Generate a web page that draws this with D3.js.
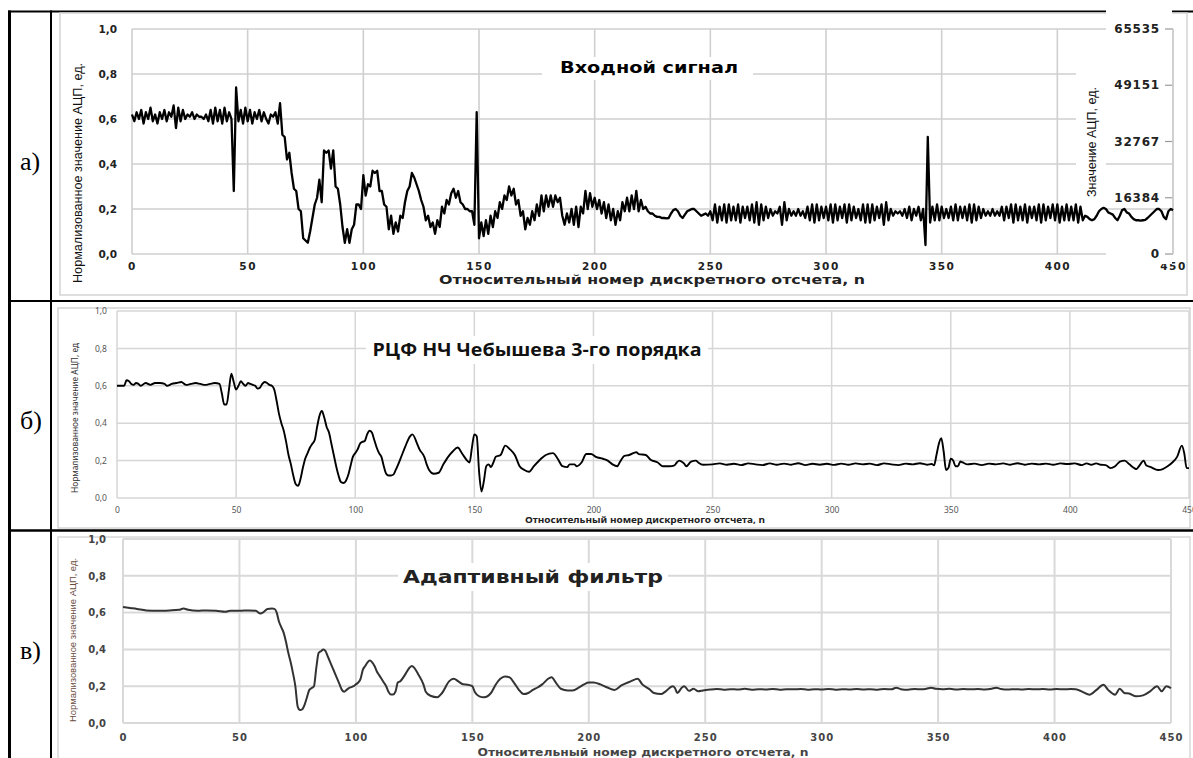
<!DOCTYPE html>
<html><head><meta charset="utf-8">
<script src="https://cdn.jsdelivr.net/npm/d3@7"></script>
<style>
html,body{margin:0;padding:0;background:#fff;}
svg{display:block;}
</style></head>
<body>
<svg id="chart" width="1193" height="758"></svg>
<script>
// ---------- DATA ----------
const xTicks = [0,50,100,150,200,250,300,350,400,450];
const yTicks = [0,0.2,0.4,0.6,0.8,1.0];
const adcTicks = [0,16384,32767,49151,65535];

// а) input signal, one value per sample n = 0..450
const inputSignal = [
0.62,0.59,0.63,0.60,0.64,0.58,0.63,0.60,0.65,0.59,
0.62,0.58,0.63,0.60,0.64,0.59,0.63,0.61,0.66,0.56,
0.65,0.59,0.64,0.60,0.62,0.61,0.63,0.60,0.62,0.61,
0.61,0.60,0.62,0.59,0.64,0.58,0.65,0.59,0.64,0.58,
0.65,0.59,0.63,0.60,0.28,0.74,0.59,0.64,0.58,0.65,
0.59,0.64,0.58,0.63,0.60,0.64,0.59,0.63,0.60,0.58,
0.62,0.61,0.63,0.58,0.67,0.53,0.52,0.42,0.45,0.36,
0.29,0.28,0.20,0.19,0.07,0.06,0.05,0.10,0.16,0.22,
0.25,0.33,0.23,0.46,0.45,0.46,0.38,0.46,0.30,0.29,
0.22,0.12,0.05,0.11,0.05,0.11,0.13,0.22,0.22,0.20,
0.35,0.26,0.31,0.30,0.37,0.36,0.37,0.28,0.28,0.22,
0.21,0.11,0.17,0.09,0.14,0.10,0.17,0.16,0.23,0.28,
0.30,0.36,0.34,0.31,0.28,0.24,0.21,0.15,0.17,0.12,
0.14,0.09,0.15,0.12,0.21,0.18,0.24,0.22,0.27,0.29,
0.25,0.28,0.23,0.22,0.20,0.20,0.19,0.19,0.13,0.63,
0.07,0.14,0.08,0.15,0.09,0.17,0.12,0.19,0.16,0.23,
0.20,0.26,0.24,0.30,0.26,0.29,0.22,0.24,0.17,0.19,
0.11,0.16,0.13,0.19,0.15,0.22,0.17,0.26,0.19,0.26,
0.21,0.26,0.21,0.26,0.23,0.25,0.17,0.13,0.18,0.14,
0.20,0.13,0.21,0.12,0.21,0.18,0.28,0.20,0.27,0.21,
0.25,0.20,0.24,0.18,0.23,0.16,0.22,0.15,0.20,0.13,
0.19,0.15,0.23,0.19,0.25,0.19,0.26,0.20,0.28,0.19,
0.24,0.20,0.21,0.19,0.18,0.18,0.17,0.165,0.165,0.16,
0.16,0.158,0.16,0.18,0.195,0.20,0.19,0.17,0.16,0.175,
0.19,0.195,0.20,0.20,0.19,0.18,0.17,0.175,0.18,0.17,
0.19,0.15,0.22,0.14,0.21,0.15,0.22,0.14,0.22,0.15,
0.21,0.15,0.22,0.14,0.21,0.16,0.21,0.15,0.22,0.14,
0.23,0.13,0.22,0.15,0.21,0.16,0.20,0.17,0.19,0.18,
0.21,0.13,0.23,0.15,0.20,0.17,0.19,0.17,0.20,0.17,
0.19,0.16,0.21,0.15,0.22,0.14,0.22,0.15,0.21,0.16,
0.21,0.15,0.22,0.14,0.22,0.15,0.21,0.16,0.22,0.14,
0.22,0.15,0.21,0.16,0.20,0.15,0.22,0.14,0.22,0.14,
0.22,0.15,0.21,0.16,0.22,0.13,0.23,0.15,0.20,0.17,
0.19,0.18,0.19,0.17,0.20,0.16,0.21,0.15,0.20,0.17,
0.21,0.15,0.20,0.04,0.52,0.14,0.21,0.15,0.22,0.15,
0.21,0.16,0.20,0.16,0.21,0.15,0.22,0.15,0.21,0.16,
0.21,0.15,0.22,0.14,0.22,0.15,0.21,0.16,0.20,0.17,
0.19,0.17,0.20,0.17,0.19,0.17,0.21,0.15,0.21,0.16,
0.22,0.14,0.22,0.15,0.21,0.15,0.22,0.14,0.21,0.16,
0.21,0.15,0.22,0.14,0.22,0.15,0.21,0.16,0.22,0.15,
0.22,0.14,0.21,0.15,0.22,0.15,0.21,0.15,0.22,0.14,
0.21,0.15,0.17,0.165,0.155,0.15,0.155,0.17,0.19,0.20,
0.205,0.20,0.185,0.18,0.175,0.16,0.15,0.17,0.195,0.20,
0.185,0.18,0.165,0.155,0.15,0.15,0.148,0.15,0.152,0.16,
0.17,0.18,0.19,0.20,0.20,0.19,0.165,0.155,0.19,0.20,
0.195
];

// б) Chebyshev low-pass output (sample number / value)
const chebN = [0,3,4,5,6,7,8,9,10,12,14,16,18,20,21,23,25,27,29,31,33,35,37,39,41,43,44,45,46,47,48,49,
50,51,52,53,54,55,56,57,58,59,60,61,62,63,64,65,66,67,68,69,70,71,72,73,74,75,76,77,78,79,
80,81,82,83,84,85,86,87,88,89,90,91,92,93,94,95,96,97,98,99,100,101,102,103,104,105,106,107,108,109,
110,111,112,113,114,115,116,117,119,121,123,124,126,127,129,130,131,133,135,137,139,141,143,145,147,148,149,
150,151,152,153,154,155,156,157,158,159,161,163,165,167,169,171,173,175,178,180,183,185,187,189,190,192,193,195,197,199,
201,204,206,208,210,211,213,215,218,219,222,224,227,229,232,234,235,236,238,239,241,243,244,246,
250,253,256,259,262,265,268,271,274,277,280,283,286,289,292,295,298,301,304,307,310,313,316,319,322,325,328,331,334,337,340,342,
343,344,345,346,347,348,349,350,351,352,353,354,355,357,360,363,366,369,372,375,378,381,384,387,390,393,396,399,402,405,407,409,411,413,415,
417,419,421,423,425,427,428,429,431,432,434,437,439,441,443,445,447,448,449,450];
const chebV = [0.60,0.60,0.63,0.625,0.61,0.605,0.615,0.61,0.60,0.615,0.605,0.615,0.615,0.61,0.60,0.61,0.615,0.62,0.605,0.61,0.615,0.61,0.605,0.61,0.615,0.61,0.56,0.50,0.50,0.58,0.665,0.62,
0.58,0.60,0.625,0.61,0.60,0.615,0.61,0.605,0.60,0.585,0.59,0.61,0.62,0.615,0.605,0.60,0.58,0.52,0.45,0.40,0.36,0.30,0.23,0.18,0.12,0.075,0.065,0.10,0.16,0.21,
0.24,0.27,0.29,0.31,0.38,0.44,0.465,0.43,0.38,0.35,0.29,0.23,0.17,0.12,0.085,0.08,0.09,0.12,0.17,0.22,0.24,0.26,0.29,0.30,0.305,0.34,0.36,0.35,0.31,0.27,
0.24,0.22,0.17,0.13,0.12,0.12,0.125,0.15,0.21,0.275,0.33,0.34,0.29,0.26,0.22,0.18,0.15,0.13,0.135,0.18,0.22,0.25,0.27,0.235,0.20,0.19,0.27,
0.34,0.33,0.14,0.035,0.09,0.17,0.18,0.165,0.19,0.22,0.23,0.28,0.26,0.23,0.17,0.15,0.14,0.17,0.21,0.23,0.24,0.21,0.17,0.165,0.18,0.18,0.17,0.19,0.235,0.235,
0.22,0.21,0.20,0.18,0.17,0.19,0.225,0.23,0.245,0.235,0.23,0.205,0.19,0.17,0.17,0.175,0.19,0.20,0.185,0.17,0.195,0.20,0.19,0.178,
0.18,0.185,0.178,0.183,0.176,0.185,0.18,0.176,0.185,0.178,0.184,0.178,0.186,0.176,0.183,0.178,0.183,0.177,0.184,0.178,0.185,0.18,0.184,0.176,0.185,0.18,0.176,0.184,0.18,0.186,0.178,0.182,
0.175,0.23,0.29,0.32,0.25,0.15,0.16,0.21,0.20,0.17,0.17,0.195,0.19,0.18,0.184,0.176,0.184,0.18,0.185,0.178,0.186,0.178,0.184,0.18,0.184,0.178,0.185,0.182,0.185,0.176,0.185,0.178,0.185,0.178,0.176,
0.16,0.17,0.195,0.20,0.18,0.16,0.155,0.17,0.20,0.175,0.165,0.15,0.155,0.17,0.19,0.22,0.28,0.24,0.16,0.16];

// в) adaptive filter output (sample number / value)
const adaptN = [0,3,6,10,15,20,24,26,28,32,36,40,44,46,50,54,57,59,60,61,62,64,65,66,67,68,69,70,71,72,73,74,75,76,77,78,79,
80,81,82,83,84,85,86,87,88,89,90,91,92,93,94,95,96,97,98,99,100,101,102,103,104,105,106,107,108,109,110,111,112,113,114,115,116,117,118,
119,121,123,124,127,129,130,132,135,137,140,142,144,146,148,150,151,153,155,158,160,162,164,166,168,170,172,174,176,178,180,183,184,186,188,191,193,196,198,
200,202,205,208,211,214,218,221,223,226,228,231,233,236,237,238,240,241,243,245,247,249,
252,255,258,261,264,267,270,273,276,279,282,285,288,291,294,297,300,303,306,309,312,315,318,321,324,327,330,332,334,337,340,343,345,347,349,
352,355,358,361,364,367,370,373,375,377,380,383,386,389,392,395,398,401,404,407,409,
411,415,418,421,423,426,428,430,432,435,438,441,444,446,448,450];
const adaptV = [0.63,0.625,0.62,0.612,0.61,0.612,0.615,0.622,0.615,0.61,0.612,0.61,0.605,0.61,0.61,0.612,0.61,0.595,0.60,0.61,0.62,0.622,0.62,0.60,0.55,0.52,0.49,0.44,0.38,0.33,0.27,0.20,0.09,0.07,0.075,0.10,0.14,
0.18,0.19,0.20,0.30,0.38,0.39,0.40,0.39,0.36,0.33,0.30,0.27,0.24,0.21,0.18,0.17,0.18,0.19,0.195,0.20,0.21,0.22,0.24,0.29,0.31,0.33,0.34,0.33,0.31,0.28,0.26,0.24,0.22,0.20,0.17,0.155,0.155,0.17,0.22,
0.226,0.26,0.30,0.31,0.26,0.21,0.17,0.148,0.14,0.163,0.226,0.24,0.226,0.21,0.208,0.20,0.17,0.145,0.14,0.163,0.208,0.24,0.253,0.248,0.217,0.18,0.157,0.163,0.18,0.193,0.21,0.244,0.248,0.217,0.186,0.177,0.177,0.195,0.21,
0.22,0.22,0.21,0.193,0.18,0.204,0.226,0.24,0.21,0.184,0.163,0.157,0.172,0.20,0.19,0.163,0.193,0.20,0.175,0.186,0.172,0.177,
0.182,0.185,0.181,0.184,0.182,0.186,0.181,0.184,0.182,0.185,0.181,0.184,0.183,0.185,0.181,0.184,0.182,0.185,0.181,0.184,0.182,0.185,0.182,0.184,0.181,0.185,0.183,0.192,0.184,0.181,0.185,0.183,0.186,0.192,0.186,
0.184,0.186,0.182,0.185,0.183,0.185,0.182,0.186,0.192,0.185,0.182,0.184,0.182,0.185,0.183,0.185,0.182,0.185,0.183,0.185,0.184,
0.175,0.154,0.18,0.208,0.18,0.154,0.186,0.163,0.16,0.145,0.15,0.172,0.20,0.172,0.20,0.19];

// ---------- DRAW ----------
const svg = d3.select('#chart');
const fmt = d => d3.format('.1f')(d).replace('.', ',');

// table frame
const tbl = svg.append('g').attr('stroke','#000').attr('fill','none');
tbl.append('line').attr('x1',8).attr('x2',1193).attr('y1',11.5).attr('y2',11.5).attr('stroke-width',2);
tbl.append('line').attr('x1',8).attr('x2',1193).attr('y1',301).attr('y2',301).attr('stroke-width',2);
tbl.append('line').attr('x1',8).attr('x2',1193).attr('y1',530.5).attr('y2',530.5).attr('stroke-width',2.5);
tbl.append('line').attr('x1',9.5).attr('x2',9.5).attr('y1',10.5).attr('y2',758).attr('stroke-width',3);
tbl.append('line').attr('x1',51).attr('x2',51).attr('y1',10.5).attr('y2',758).attr('stroke-width',2);

// panel labels
[['а)',161],['б)',420],['в)',650]].forEach(([t,y])=>{
  svg.append('text').attr('x',20).attr('y',y).attr('dy','0.35em')
    .attr('font-family','"Liberation Serif","Times New Roman",serif').attr('font-size',26).text(t);
});

function panel(cfg){
  const g = svg.append('g');
  // chart box
  g.append('rect').attr('x',cfg.box[0]).attr('y',cfg.box[1]).attr('width',cfg.box[2]-cfg.box[0]).attr('height',cfg.box[3]-cfg.box[1])
    .attr('fill','#fff').attr('stroke',cfg.boxColor).attr('stroke-width',1.5);
  const x = d3.scaleLinear().domain([0,450]).range(cfg.xr);
  const y = d3.scaleLinear().domain([0,1]).range(cfg.yr);
  // grid
  const grid = g.append('g').attr('stroke',cfg.gridColor).attr('stroke-width',cfg.gridW);
  grid.selectAll('.gx').data(xTicks).join('line').attr('x1',d=>x(d)).attr('x2',d=>x(d)).attr('y1',y(0)).attr('y2',y(1));
  grid.selectAll('.gy').data(yTicks).join('line').attr('x1',x(0)).attr('x2',x(450)).attr('y1',d=>y(d)).attr('y2',d=>y(d));
  // y axis labels
  const yAx = d3.axisLeft(y).tickValues(yTicks).tickFormat(fmt).tickSize(0).tickPadding(cfg.yPad);
  const ya = g.append('g').attr('transform',`translate(${x(0)},0)`).call(yAx);
  ya.select('.domain').remove();
  ya.selectAll('text').attr('font-family',cfg.tickFont).attr('font-size',cfg.tickSize).attr('font-weight',cfg.tickWeight)
    .attr('fill',cfg.tickColor).attr('letter-spacing',cfg.tickLS||0);
  // x axis labels
  const xAx = d3.axisBottom(x).tickValues(xTicks).tickFormat(d3.format('d')).tickSize(0).tickPadding(cfg.xPad);
  const xa = g.append('g').attr('transform',`translate(0,${y(0)})`).call(xAx);
  xa.select('.domain').remove();
  xa.selectAll('text').attr('font-family',cfg.tickFont).attr('font-size',cfg.tickSize).attr('font-weight',cfg.tickWeight)
    .attr('fill',cfg.tickColor).attr('letter-spacing',cfg.xLS||0);
  return {g,x,y};
}

function addText(g,o){
  const t = g.append('text').attr('x',o.x).attr('y',o.y).attr('text-anchor',o.anchor||'middle').attr('dy','0.35em')
    .attr('font-family',o.font).attr('font-size',o.size).attr('font-weight',o.weight||'normal').attr('fill',o.color||'#000')
    .text(o.text);
  if(o.rot) t.attr('transform',`rotate(${o.rot},${o.x},${o.y})`);
  if(o.len) t.attr('textLength',o.len).attr('lengthAdjust','spacingAndGlyphs');
  return t;
}

// ===== Panel а =====
{
  const {g,x,y} = panel({box:[60,13,1187,295], xr:[132,1173], yr:[254,29], boxColor:'#d4d4d4',
    gridColor:'#cfcfcf', gridW:1.6, tickFont:'"DejaVu Sans",Verdana,sans-serif', tickSize:10.5, tickWeight:'bold',
    tickColor:'#222', yPad:15, xPad:9, xLS:1.5});
  // title with white box
  g.append('rect').attr('x',542).attr('y',57).attr('width',211).attr('height',23).attr('fill','#fff');
  addText(g,{x:649,y:68,text:'Входной сигнал',font:'"DejaVu Sans",Verdana,sans-serif',size:15,weight:'bold',len:178});
  // right axis (ADC values)
  const yR = d3.scaleLinear().domain([0,65535]).range([254,29]);
  g.append('rect').attr('x',1076).attr('y',60).attr('width',30).attr('height',158).attr('fill','#fff');
  g.selectAll('.rbox').data(adcTicks).join('rect').attr('x',1106).attr('y',d=>yR(d)-24).attr('width',66).attr('height',34).attr('fill','#fff');
  g.selectAll('.rtick').data(adcTicks).join('line').attr('x1',1165).attr('x2',1173).attr('y1',d=>yR(d)).attr('y2',d=>yR(d))
    .attr('stroke','#9a9a9a').attr('stroke-width',1.2);
  g.append('line').attr('x1',1173).attr('x2',1173).attr('y1',yR(0)).attr('y2',yR(65535)).attr('stroke','#cfcfcf').attr('stroke-width',1.6);
  g.selectAll('.rlab').data(adcTicks).join('text').attr('x',1160).attr('y',d=>yR(d)).attr('dy','0.35em').attr('text-anchor','end')
    .attr('font-family','"DejaVu Sans",Verdana,sans-serif').attr('font-size',12).attr('font-weight','bold').attr('fill','#222')
    .attr('letter-spacing',0.8).text(d=>d);
  // axis titles
  addText(g,{x:652,y:280,text:'Относительный номер дискретного отсчета, n',font:'"DejaVu Sans",Verdana,sans-serif',size:11.5,weight:'bold',len:426,color:'#222'});
  addText(g,{x:77,y:173,rot:-90,text:'Нормализованное значение АЦП, ед.',font:'"Liberation Sans Narrow","Arial Narrow","Liberation Sans",sans-serif',size:13.5,len:220,color:'#111'});
  addText(g,{x:1091,y:142,rot:-90,text:'Значение АЦП, ед.',font:'"Liberation Sans Narrow","Arial Narrow","Liberation Sans",sans-serif',size:13.5,len:110,color:'#111'});
  // signal
  const line = d3.line().x((d,i)=>x(i)).y(d=>y(d));
  g.append('path').datum(inputSignal).attr('d',line).attr('fill','none').attr('stroke','#000').attr('stroke-width',2.3).attr('stroke-linejoin','round');
}

// ===== Panel б =====
{
  const {g,x,y} = panel({box:[58,308,1190,528], xr:[117,1189], yr:[498,311], boxColor:'#d4d4d4',
    gridColor:'#d6d6d6', gridW:1.5, tickFont:'"Noto Sans","Open Sans",sans-serif', tickSize:8.5, tickWeight:'normal',
    tickColor:'#555', yPad:10, xPad:9});
  g.append('rect').attr('x',366).attr('y',336).attr('width',342).attr('height',28).attr('fill','#fff');
  addText(g,{x:537,y:350,text:'РЦФ НЧ Чебышева 3-го порядка',font:'"Open Sans","Noto Sans",sans-serif',size:17,weight:'bold',len:329,color:'#111'});
  addText(g,{x:645,y:520,text:'Относительный номер дискретного отсчета,  n',font:'"Noto Sans","Open Sans",sans-serif',size:9,weight:'bold',len:240,color:'#222'});
  addText(g,{x:75,y:418,rot:-90,text:'Нормализованное значение АЦП, ед',font:'"Noto Sans","Open Sans",sans-serif',size:8,len:150,color:'#333'});
  const pts = chebN.map((n,i)=>[n,chebV[i]]);
  const line = d3.line().x(d=>x(d[0])).y(d=>y(d[1])).curve(d3.curveMonotoneX);
  g.append('path').datum(pts).attr('d',line).attr('fill','none').attr('stroke','#000').attr('stroke-width',1.9).attr('stroke-linejoin','round');
}

// ===== Panel в =====
{
  const {g,x,y} = panel({box:[58,537,1190,760], xr:[123,1171], yr:[723,539], boxColor:'#d8d8d8',
    gridColor:'#d9d9d9', gridW:2, tickFont:'"DejaVu Sans",Verdana,sans-serif', tickSize:10, tickWeight:'bold',
    tickColor:'#444', yPad:17, xPad:11, xLS:1});
  g.append('rect').attr('x',398).attr('y',563).attr('width',270).attr('height',28).attr('fill','#fff');
  addText(g,{x:533,y:577,text:'Адаптивный фильтр',font:'"DejaVu Sans",Verdana,sans-serif',size:17,weight:'bold',len:260,color:'#222'});
  addText(g,{x:643,y:752,text:'Относительный номер дискретного отсчета, n',font:'"DejaVu Sans",Verdana,sans-serif',size:10,weight:'bold',len:331,color:'#444'});
  addText(g,{x:73,y:640,rot:-90,text:'Нормализованное значение АЦП, ед.',font:'"Liberation Sans Narrow","Liberation Sans",sans-serif',size:9.5,len:164,color:'#6a4a3c'});
  const pts = adaptN.map((n,i)=>[n,adaptV[i]]);
  const line = d3.line().x(d=>x(d[0])).y(d=>y(d[1])).curve(d3.curveMonotoneX);
  g.append('path').datum(pts).attr('d',line).attr('fill','none').attr('stroke','#333').attr('stroke-width',2).attr('stroke-linejoin','round');
}
</script>
</body></html>
